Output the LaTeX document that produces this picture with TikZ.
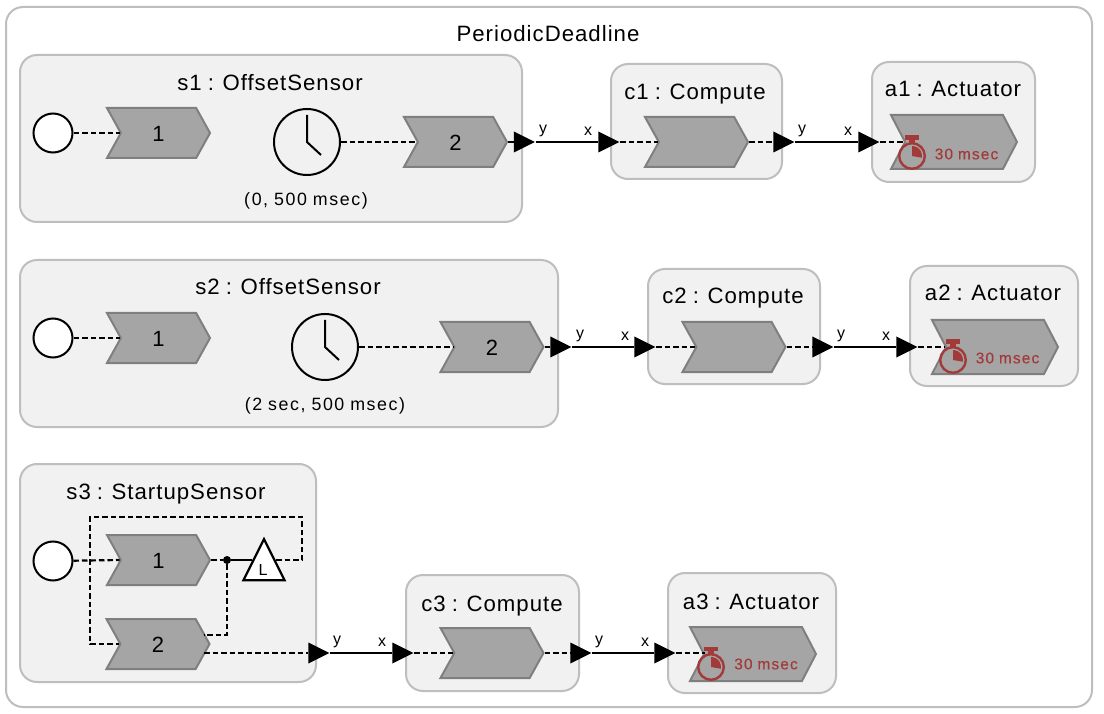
\documentclass[tikz,border=0pt]{standalone}
\usepackage{fontspec}
\setmainfont[LetterSpace=4.5,WordSpace=0.85]{Liberation Sans}
\newfontfamily\smallfont[LetterSpace=9,WordSpace=0.9]{Liberation Sans}
\newfontfamily\msecfont[LetterSpace=7,WordSpace=0.9,FakeBold=0.3]{Liberation Sans}
\usetikzlibrary{shapes.geometric}
\usetikzlibrary{shapes.symbols}

\definecolor{boxline}{HTML}{BEBEBE}
\definecolor{boxfill}{HTML}{F1F1F1}
\definecolor{reactfill}{HTML}{A5A5A5}
\definecolor{reactline}{HTML}{7F7F7F}
\definecolor{deadline}{HTML}{A33A3A}

\tikzset{
  box/.style={draw=boxline,fill=boxfill,line width=2pt,rounded corners=17pt,inner sep=0pt},
  title/.style={font=\fontsize{22.2}{24}\selectfont,text=black,inner sep=0pt,text height=16pt,text depth=0pt},
  param/.style={font=\smallfont\fontsize{17.8}{20}\selectfont,text=black,inner sep=0pt},
  portname/.style={font=\fontsize{16}{18}\selectfont,text=black,inner sep=0pt},
  reaction/.style={shape=signal,signal to=east,signal from=west,signal pointer angle=122,draw=reactline,fill=reactfill,line width=2pt,minimum width=103pt,minimum height=50pt,inner sep=0pt,text=black,font=\fontsize{22}{24}\selectfont,text height=17.5pt,text depth=0pt},
  deadreaction/.style={reaction,signal pointer angle=125,minimum width=126pt,minimum height=54pt},
  startup/.style={shape=circle,draw=black,fill=white,line width=2pt,minimum size=39pt,inner sep=0pt},
  timer/.style={shape=circle,draw=black,fill=none,line width=2pt,minimum size=66pt,inner sep=0pt},
  port/.style={shape=isosceles triangle,isosceles triangle stretches,fill=black,minimum width=21pt,minimum height=21pt,inner sep=0pt,anchor=apex},
  logical/.style={shape=isosceles triangle,isosceles triangle stretches,shape border rotate=90,draw=black,fill=white,line width=2.2pt,minimum width=41pt,minimum height=41pt,inner sep=0pt},
  junction/.style={shape=circle,fill=black,minimum size=8pt,inner sep=0pt},
  wire/.style={draw=black,line width=2.2pt,dash pattern=on 5.5pt off 3pt},
  conn/.style={draw=black,line width=2.6pt},
  msec/.style={font=\msecfont\fontsize{15.5}{18}\selectfont,text=deadline,inner sep=0pt},
}

\newcommand{\clockhands}[1]{\draw[line width=2pt,shift={(#1)}] (0,-27) -- (0,0) -- (14,13);}
\newcommand{\stopwatch}[1]{
\begin{scope}[shift={(#1)}]
\draw[draw=deadline,line width=2.4pt] (0,0) circle (12.8);
\fill[deadline] (-6.7,-20.5) rectangle (6.7,-16.3);
\fill[deadline] (-2.7,-17) rectangle (2.7,-12);
\fill[deadline] (0,0) -- (0,-10) arc (-90:10:10) -- cycle;
\end{scope}
}

\begin{document}
\begin{tikzpicture}[x=1pt,y=-1pt]
\useasboundingbox (0,0) rectangle (1104,714);

\node[box,minimum width=1086pt,minimum height=700pt,fill=white] (main) at (549,357) {};
\node[title] (maintitle) at (548,34) {PeriodicDeadline};

% first row
\node[box,minimum width=502pt,minimum height=167pt] (s1) at (271,138.5) {};
\node[box,minimum width=171pt,minimum height=115pt] (c1) at (696.5,121.5) {};
\node[box,minimum width=163pt,minimum height=120pt] (a1) at (953.5,122) {};
\node[title] (s1title) at (270,83) {s1 : OffsetSensor};
\node[title] (c1title) at (695,92) {c1 : Compute};
\node[title] (a1title) at (953,89) {a1 : Actuator};
\node[startup] (s1start) at (53,133) {};
\node[reaction] (s1r1) at (158.5,133) {1};
\node[timer] (s1timer) at (307,142) {};
\node[param] (s1param) at (306,200.5) {(0, 500 msec)};
\node[reaction] (s1r2) at (455.5,142) {2};
\node[reaction] (c1r) at (696.5,142) {};
\node[deadreaction] (a1r) at (954,142) {};
\node[port] (s1y) at (535.5,142) {};
\node[port] (c1x) at (620,142) {};
\node[port] (c1y) at (795,142) {};
\node[port] (a1x) at (880,142) {};
\node[portname] (s1yname) at (543,131) {y};
\node[portname] (c1xname) at (588,131) {x};
\node[portname] (c1yname) at (802,131) {y};
\node[portname] (a1xname) at (848,131) {x};
\node[msec] (a1msec) at (966.5,154) {30 msec};

% second row
\node[box,minimum width=538pt,minimum height=167pt] (s2) at (289,343.5) {};
\node[box,minimum width=172pt,minimum height=115pt] (c2) at (734,326.5) {};
\node[box,minimum width=168pt,minimum height=120pt] (a2) at (994,326) {};
\node[title] (s2title) at (288,287) {s2 : OffsetSensor};
\node[title] (c2title) at (733,296) {c2 : Compute};
\node[title] (a2title) at (993,293) {a2 : Actuator};
\node[startup] (s2start) at (53,338) {};
\node[reaction] (s2r1) at (158.5,338) {1};
\node[timer] (s2timer) at (325,347) {};
\node[param] (s2param) at (325,405.5) {(2 sec, 500 msec)};
\node[reaction] (s2r2) at (492,347) {2};
\node[reaction] (c2r) at (734,347) {};
\node[deadreaction] (a2r) at (995,347) {};
\node[port] (s2y) at (572,347) {};
\node[port] (c2x) at (656,347) {};
\node[port] (c2y) at (834,347) {};
\node[port] (a2x) at (918,347) {};
\node[portname] (s2yname) at (580,336) {y};
\node[portname] (c2xname) at (625,336) {x};
\node[portname] (c2yname) at (841,336) {y};
\node[portname] (a2xname) at (886,336) {x};
\node[msec] (a2msec) at (1007.5,358) {30 msec};

% third row
\node[box,minimum width=296pt,minimum height=218pt] (s3) at (168,573) {};
\node[box,minimum width=173pt,minimum height=116pt] (c3) at (492.5,633) {};
\node[box,minimum width=168pt,minimum height=120pt] (a3) at (752,633) {};
\node[title] (s3title) at (166,491) {s3 : StartupSensor};
\node[title] (c3title) at (492,603) {c3 : Compute};
\node[title] (a3title) at (751,601) {a3 : Actuator};
\node[startup] (s3start) at (53,561) {};
\node[reaction] (s3r1) at (158.5,560) {1};
\node[reaction] (s3r2) at (158,644) {2};
\node[logical] (s3delay) at (264,567.5) {};
\node[portname] (s3delayname) at (263,570) {L};
\node[junction] (s3dot) at (227,560) {};
\node[reaction] (c3r) at (492,653) {};
\node[deadreaction] (a3r) at (753,654) {};
\node[port] (s3y) at (330,653) {};
\node[port] (c3x) at (414,653) {};
\node[port] (c3y) at (592,653) {};
\node[port] (a3x) at (676,653) {};
\node[portname] (s3yname) at (337,642) {y};
\node[portname] (c3xname) at (382,642) {x};
\node[portname] (c3yname) at (599,642) {y};
\node[portname] (a3xname) at (645,642) {x};
\node[msec] (a3msec) at (766,664) {30 msec};

\coordinate (s3loopa) at (276,560);
\coordinate (s3loopb) at (302,560);
\coordinate (s3loopc) at (302,517);
\coordinate (s3loopd) at (90,517);
\coordinate (s3loope) at (90,644);
\coordinate (s3r2top) at (204,635);
\coordinate (s3r2low) at (204,653);
\coordinate (s3down) at (227,635);
\coordinate (s3delayin) at (252,560);
\coordinate (a3wire) at (705,653);

\draw[wire] (s1start) -- (s1r1.west);
\draw[wire] (s1timer) -- (s1r2.west);
\draw[wire] (s1r2.east) -- (s1y);
\draw[wire] (c1x) -- (c1r.west);
\draw[wire] (c1r.east) -- (c1y);
\draw[wire] (a1x) -- (a1r.west);
\draw[conn] (s1y) -- (c1x);
\draw[conn] (c1y) -- (a1x);

\draw[wire] (s2start) -- (s2r1.west);
\draw[wire] (s2timer) -- (s2r2.west);
\draw[wire] (s2r2.east) -- (s2y);
\draw[wire] (c2x) -- (c2r.west);
\draw[wire] (c2r.east) -- (c2y);
\draw[wire] (a2x) -- (a2r.west);
\draw[conn] (s2y) -- (c2x);
\draw[conn] (c2y) -- (a2x);

\draw[wire] (s3start) -- (s3r1.west);
\draw[wire] (s3r1.east) -- (s3dot);
\draw[draw=black,line width=2.2pt] (s3dot) -- (s3delayin);
\draw[wire] (s3loopa) -- (s3loopb) -- (s3loopc) -- (s3loopd) -- (s3loope) -- (s3r2.west);
\draw[wire] (s3dot) -- (s3down) -- (s3r2top);
\draw[wire] (s3r2low) -- (s3y);
\draw[wire] (c3x) -- (c3r.west);
\draw[wire] (c3r.east) -- (c3y);
\draw[wire] (a3x) -- (a3wire);
\draw[conn] (s3y) -- (c3x);
\draw[conn] (c3y) -- (a3x);

\clockhands{s1timer}
\clockhands{s2timer}
\stopwatch{912,156}
\stopwatch{953,360}
\stopwatch{711,667}

\end{tikzpicture}
\end{document}
